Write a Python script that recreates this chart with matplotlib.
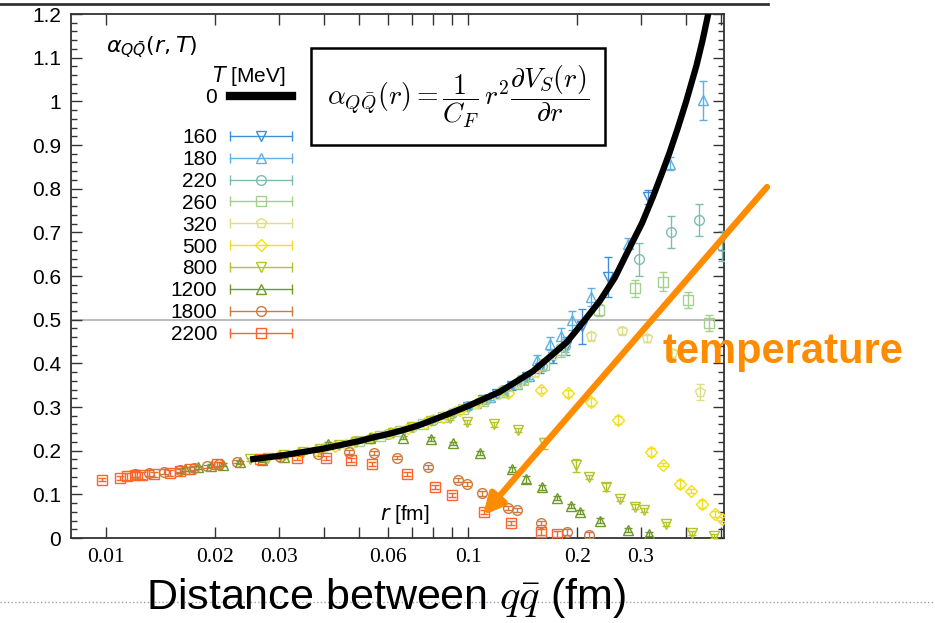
import numpy as np
import matplotlib
matplotlib.use("Agg")
import matplotlib.pyplot as plt
from matplotlib.lines import Line2D
from matplotlib.patches import Rectangle
from matplotlib.legend_handler import HandlerLine2D
from matplotlib.ticker import MultipleLocator, FuncFormatter, NullLocator
import matplotlib.patheffects as pe

plt.rcParams['font.family'] = ['Liberation Sans', 'DejaVu Sans']
plt.rcParams['mathtext.fontset'] = 'dejavusans'

# T = 0 curve
r_T0 = [0.025, 0.030, 0.035, 0.040, 0.045, 0.050, 0.055, 0.060, 0.066, 0.073, 0.082,
        0.090, 0.101, 0.110, 0.1224, 0.135, 0.151, 0.168, 0.187, 0.208, 0.231, 0.254,
        0.280, 0.302, 0.324, 0.342, 0.360, 0.380, 0.400, 0.427, 0.444, 0.459, 0.474]
a_T0 = [0.180, 0.188, 0.197, 0.205, 0.214, 0.222, 0.231, 0.238, 0.247, 0.258, 0.274,
        0.287, 0.304, 0.318, 0.335, 0.357, 0.382, 0.415, 0.448, 0.495, 0.543, 0.596,
        0.667, 0.721, 0.782, 0.833, 0.883, 0.941, 1.000, 1.082, 1.140, 1.196, 1.250]

temps = ['160', '180', '220', '260', '320', '500', '800', '1200', '1800', '2200']
colors = ['#3d8fde', '#5fb0e6', '#7dbdb0', '#a5cf8f', '#dede84',
          '#f4df1c', '#b4c42a', '#6f9a2a', '#cc7a40', '#ff6428']
markers = ['v', '^', 'o', 's', 'p', 'D', 'v', '^', 'o', 's']

r_160 = [0.100, 0.110, 0.120, 0.132, 0.145, 0.158, 0.172, 0.186, 0.206, 0.244, 0.314]
a_160 = [0.300, 0.316, 0.330, 0.347, 0.368, 0.390, 0.415, 0.440, 0.485, 0.598, 0.781]
e_160 = [0.004, 0.005, 0.006, 0.007, 0.009, 0.012, 0.015, 0.020, 0.040, 0.046, 0.015]

r_180 = [0.105, 0.115, 0.125, 0.136, 0.147, 0.155, 0.168, 0.181, 0.193, 0.219, 0.277, 0.361, 0.446]
a_180 = [0.309, 0.322, 0.334, 0.352, 0.372, 0.407, 0.445, 0.462, 0.499, 0.552, 0.674, 0.857, 1.002]
e_180 = [0.004, 0.005, 0.005, 0.006, 0.008, 0.012, 0.015, 0.018, 0.022, 0.020, 0.012, 0.015, 0.045]

r_220 = [0.060, 0.070, 0.080, 0.090, 0.100, 0.112, 0.125, 0.140, 0.160, 0.185, 0.297, 0.364, 0.434, 0.501]
a_220 = [0.238, 0.254, 0.270, 0.286, 0.302, 0.318, 0.338, 0.362, 0.395, 0.440, 0.638, 0.701, 0.729, 0.669]
e_220 = [0.004, 0.004, 0.004, 0.005, 0.005, 0.006, 0.007, 0.008, 0.012, 0.015, 0.038, 0.037, 0.037, 0.035]

r_260 = [0.050, 0.057, 0.065, 0.075, 0.085, 0.097, 0.110, 0.125, 0.142, 0.162, 0.180,
         0.230, 0.289, 0.346, 0.405, 0.463]
a_260 = [0.222, 0.233, 0.245, 0.262, 0.278, 0.295, 0.314, 0.335, 0.362, 0.397, 0.430,
         0.522, 0.572, 0.587, 0.545, 0.492]
e_260 = [0.004, 0.004, 0.004, 0.004, 0.005, 0.005, 0.006, 0.007, 0.009, 0.012, 0.015,
         0.014, 0.020, 0.022, 0.018, 0.018]

r_320 = [0.040, 0.046, 0.053, 0.061, 0.070, 0.080, 0.092, 0.105, 0.120, 0.137, 0.153,
         0.171, 0.218, 0.266, 0.311, 0.365, 0.438]
a_320 = [0.206, 0.216, 0.227, 0.240, 0.255, 0.272, 0.290, 0.308, 0.327, 0.352, 0.378,
         0.419, 0.462, 0.475, 0.458, 0.423, 0.335]
e_320 = [0.004, 0.004, 0.004, 0.004, 0.004, 0.004, 0.005, 0.005, 0.006, 0.007, 0.008,
         0.008, 0.010, 0.008, 0.008, 0.010, 0.018]

r_500 = [0.030, 0.034, 0.038, 0.043, 0.048, 0.054, 0.061, 0.068, 0.076, 0.085, 0.095, 0.107,
         0.129, 0.159, 0.189, 0.219, 0.260, 0.320, 0.346, 0.384, 0.412, 0.441, 0.480, 0.501]
a_500 = [0.188, 0.195, 0.202, 0.210, 0.219, 0.229, 0.240, 0.252, 0.264, 0.278, 0.293, 0.311,
         0.331, 0.338, 0.332, 0.311, 0.270, 0.197, 0.168, 0.124, 0.108, 0.078, 0.055, 0.043]
e_500 = [0.003, 0.003, 0.003, 0.003, 0.003, 0.003, 0.004, 0.004, 0.004, 0.004, 0.005, 0.005,
         0.006, 0.007, 0.008, 0.009, 0.009, 0.010, 0.004, 0.010, 0.004, 0.010, 0.008, 0.005]

r_800 = [0.025, 0.028, 0.031, 0.035, 0.039, 0.044, 0.049, 0.055, 0.062, 0.070, 0.079, 0.089,
         0.099, 0.118, 0.137, 0.162, 0.199, 0.216, 0.240, 0.263, 0.289, 0.306, 0.352, 0.414, 0.476]
a_800 = [0.180, 0.184, 0.189, 0.196, 0.203, 0.212, 0.220, 0.230, 0.241, 0.254, 0.268, 0.275,
         0.266, 0.260, 0.247, 0.217, 0.167, 0.140, 0.117, 0.089, 0.072, 0.064, 0.032, 0.012, 0.005]
e_800 = [0.003, 0.003, 0.003, 0.003, 0.003, 0.003, 0.003, 0.003, 0.003, 0.004, 0.004, 0.004,
         0.005, 0.005, 0.005, 0.012, 0.015, 0.005, 0.010, 0.005, 0.005, 0.005, 0.005, 0.005, 0.005]

r_1200 = [0.0165, 0.018, 0.0195, 0.021, 0.0235, 0.027, 0.031, 0.041, 0.0535, 0.066, 0.0787,
          0.0906, 0.1075, 0.132, 0.1443, 0.1594, 0.1757, 0.1917, 0.2036, 0.2319, 0.2755, 0.3164]
a_1200 = [0.158, 0.162, 0.166, 0.168, 0.173, 0.178, 0.186, 0.215, 0.230, 0.230, 0.227,
          0.217, 0.195, 0.157, 0.135, 0.116, 0.091, 0.073, 0.060, 0.040, 0.018, 0.009]
e_1200 = [0.004, 0.004, 0.004, 0.004, 0.004, 0.003, 0.003, 0.004, 0.004, 0.004, 0.004,
          0.004, 0.005, 0.005, 0.008, 0.005, 0.005, 0.005, 0.005, 0.005, 0.005, 0.005]

r_1800 = [0.0120, 0.0131, 0.0145, 0.0160, 0.0175, 0.0190, 0.0205, 0.0230, 0.0302, 0.0385, 0.0468,
          0.0551, 0.0635, 0.0774, 0.0938, 0.0995, 0.1089, 0.1292, 0.136, 0.159, 0.188, 0.216]
a_1800 = [0.146, 0.148, 0.152, 0.156, 0.160, 0.164, 0.169, 0.175, 0.186, 0.192, 0.197,
          0.195, 0.184, 0.163, 0.133, 0.123, 0.102, 0.069, 0.064, 0.035, 0.014, 0.007]
e_1800 = [0.007, 0.007, 0.006, 0.005, 0.005, 0.004, 0.004, 0.004, 0.004, 0.004, 0.004,
          0.004, 0.004, 0.004, 0.005, 0.005, 0.005, 0.005, 0.005, 0.005, 0.006, 0.006]

r_2200 = [0.00977, 0.0109, 0.0114, 0.0120, 0.0126, 0.0136, 0.0150, 0.0160, 0.0170, 0.0202, 0.0266,
          0.0336, 0.0404, 0.0475, 0.0542, 0.0677, 0.0812, 0.0904, 0.1107, 0.131, 0.159, 0.176]
a_2200 = [0.134, 0.137, 0.142, 0.144, 0.144, 0.146, 0.149, 0.153, 0.158, 0.169, 0.182,
          0.183, 0.183, 0.178, 0.169, 0.146, 0.117, 0.098, 0.060, 0.035, 0.014, 0.009]
e_2200 = [0.004, 0.004, 0.008, 0.008, 0.008, 0.006, 0.006, 0.005, 0.005, 0.006, 0.005,
          0.005, 0.005, 0.005, 0.005, 0.005, 0.005, 0.005, 0.005, 0.005, 0.006, 0.006]

series = [(r_160, a_160, e_160), (r_180, a_180, e_180), (r_220, a_220, e_220),
          (r_260, a_260, e_260), (r_320, a_320, e_320), (r_500, a_500, e_500),
          (r_800, a_800, e_800), (r_1200, a_1200, e_1200), (r_1800, a_1800, e_1800),
          (r_2200, a_2200, e_2200)]

fig = plt.figure(figsize=(9.35, 6.23), dpi=100)
ax = fig.add_axes([0.0759, 0.1364, 0.6984, 0.8411])

ax.axhline(0.5, color='#bdbdbd', lw=1.5, zorder=1)

for (r, a, e), c, m in zip(series, colors, markers):
    ms = 6 if m == 'D' else 7
    ax.errorbar(r, a, yerr=e, fmt=m, color=c, mfc='none', ms=ms, mew=1.0,
                elinewidth=1.0, capsize=3.2, capthick=1.0, zorder=3)

ax.plot(r_T0, a_T0, color='black', lw=4.5, zorder=4, solid_capstyle='butt',
        solid_joinstyle='round')

ax.set_xscale('log')
ax.set_xlim(0.008, 0.5086)
ax.set_ylim(0, 1.2)

xt = [0.01, 0.02, 0.03, 0.04, 0.05, 0.06, 0.07, 0.08, 0.09, 0.1, 0.2, 0.3, 0.4, 0.5]
xl = ['0.01', '0.02', '0.03', '', '', '0.06', '', '', '', '0.1', '0.2', '0.3', '', '']
ax.set_xticks(xt)
ax.set_xticklabels(xl, fontfamily='Liberation Serif', fontsize=15.5)
ax.xaxis.set_minor_locator(NullLocator())

ax.yaxis.set_major_locator(MultipleLocator(0.1))
ax.yaxis.set_minor_locator(MultipleLocator(0.02))
ax.yaxis.set_major_formatter(FuncFormatter(lambda v, p: '%g' % round(v, 2)))

ax.tick_params(which='both', direction='in', top=True, right=True, color='#333333', width=1)
ax.tick_params(which='major', length=8)
ax.tick_params(which='minor', length=4)
ax.tick_params(axis='y', labelsize=15, pad=7)
ax.tick_params(axis='x', pad=7)
for s in ax.spines.values():
    s.set_color('#333333')
    s.set_linewidth(1.3)

# formula box
ax.add_patch(Rectangle((0.3675, 0.75), 0.4503, 0.185, transform=ax.transAxes,
                       fill=False, lw=1.8, ec='black', zorder=5))
ax.text(0.5925, 0.8425,
        r'$\alpha_{Q\bar{Q}}(r) = \dfrac{1}{C_F}\, r^2 \dfrac{\partial V_S(r)}{\partial r}$',
        transform=ax.transAxes, ha='center', va='center', fontsize=20,
        math_fontfamily='cm', zorder=6)

ax.text(0.55, 0.044, r'$r$ [fm]', transform=ax.transAxes, ha='right', va='center', fontsize=15)

fig.text(152 / 935, 1 - 47 / 623, r'$\alpha_{Q\bar{Q}}(r,T)$', ha='center', va='center', fontsize=16)

# legends
h0 = Line2D([], [], color='black', lw=6)
leg1 = fig.legend([h0], ['0'], loc='upper right', bbox_to_anchor=(292 / 935, 1 - 64 / 623),
                  frameon=False, markerfirst=False, handlelength=3.0, handletextpad=0.6,
                  fontsize=15, title='$T$ [MeV]', title_fontsize=15, alignment='center',
                  borderpad=0, borderaxespad=0, labelspacing=0.0)

handles = []
hmap = {}
for c, m in zip(colors, markers):
    main = Line2D([], [], color=c, marker=m, mfc='none', ms=6 if m == 'D' else 7, mew=1, lw=1)
    caps = Line2D([], [], color=c, marker='|', ls='none', ms=7, mew=1)
    hmap[caps] = HandlerLine2D(numpoints=2, marker_pad=0)
    handles.append((main, caps))
leg2 = fig.legend(handles, temps, loc='upper right', bbox_to_anchor=(292 / 935, 1 - 128 / 623),
                  frameon=False, markerfirst=False, handlelength=3.0, handletextpad=0.6,
                  labelspacing=0.14, fontsize=15, borderpad=0, borderaxespad=0,
                  handler_map=hmap)

# slide decorations
fig.add_artist(Line2D([0, 768 / 935], [1 - 4 / 623] * 2, transform=fig.transFigure,
                      color='#333333', lw=2))
fig.add_artist(Line2D([0, 1], [1 - 602 / 623] * 2, transform=fig.transFigure,
                      color='#9aa0b0', lw=1, ls=':', zorder=0))

fig.text(386 / 935, 1 - 598 / 623, r'Distance between $q\bar{q}$ (fm)', ha='center', va='center',
         fontsize=31, math_fontfamily='cm')

fig.text(783 / 935, 1 - 352 / 623, 'temperature', ha='center', va='center',
         fontsize=30, fontweight='bold', color='#ff8c00')

arr = ax.annotate('', xy=(483, 623 - 515), xytext=(767, 623 - 187),
                  xycoords='figure pixels', textcoords='figure pixels',
                  arrowprops=dict(arrowstyle='-|>,head_length=0.6,head_width=0.3', lw=4.5,
                                  color='#ff8c00', shrinkA=0, shrinkB=0, mutation_scale=20),
                  annotation_clip=False, zorder=7)
arr.arrow_patch.set_path_effects([pe.SimplePatchShadow(offset=(2, -2), alpha=0.3), pe.Normal()])

fig.savefig('out.png', dpi=100)
